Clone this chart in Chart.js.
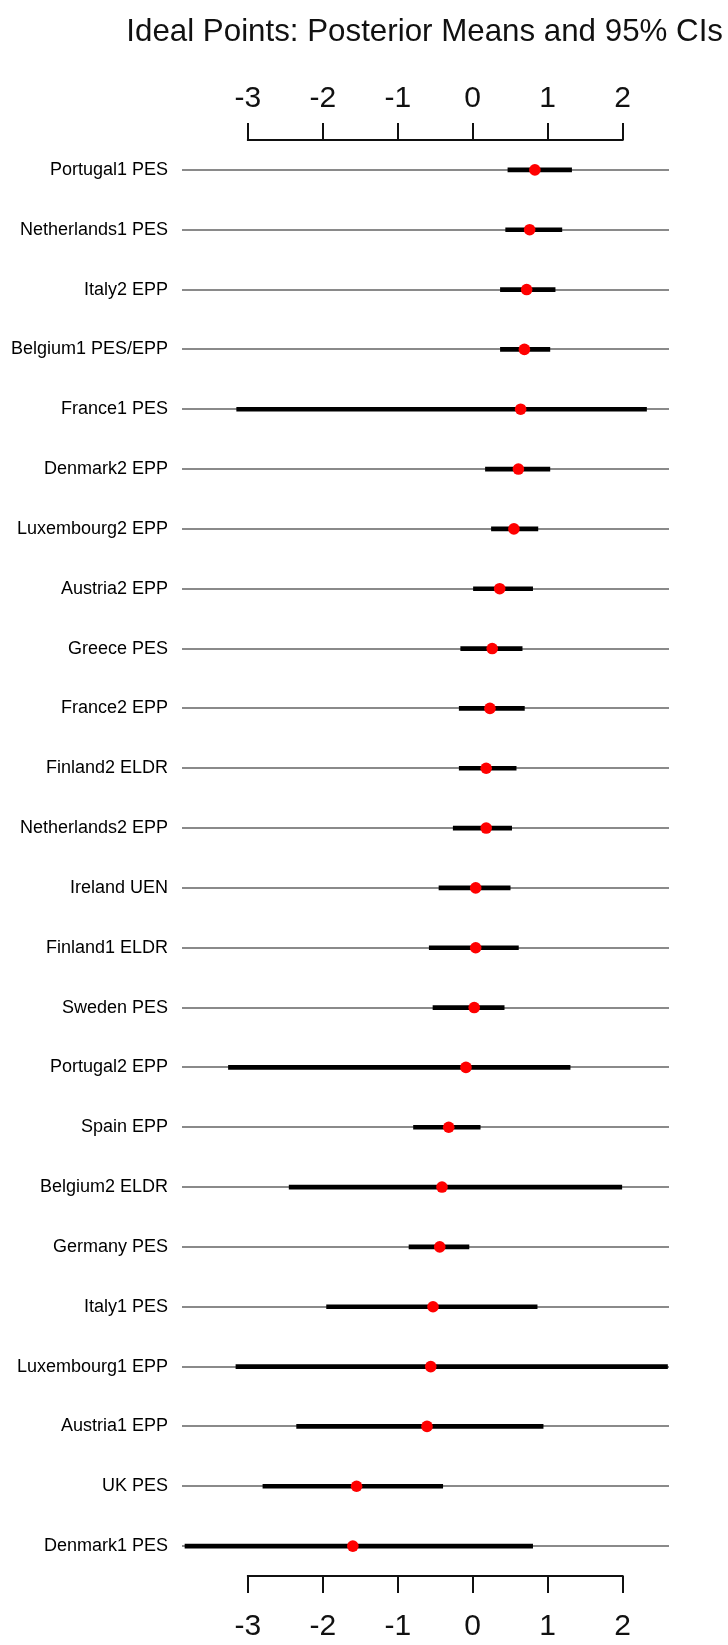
<!DOCTYPE html>
<html>
<head>
<meta charset="utf-8">
<script src="https://cdn.jsdelivr.net/npm/chart.js@4/dist/chart.umd.min.js"></script>
<style>
  html, body { margin: 0; padding: 0; background: #ffffff; }
  #wrap { width: 728px; height: 1645px; }
</style>
</head>
<body>
<div id="wrap"><canvas id="c" width="728" height="1645"></canvas></div>
<script>
// Party groups, top to bottom
const parties = [
  "Portugal1 PES", "Netherlands1 PES", "Italy2 EPP", "Belgium1 PES/EPP",
  "France1 PES", "Denmark2 EPP", "Luxembourg2 EPP", "Austria2 EPP",
  "Greece PES", "France2 EPP", "Finland2 ELDR", "Netherlands2 EPP",
  "Ireland UEN", "Finland1 ELDR", "Sweden PES", "Portugal2 EPP",
  "Spain EPP", "Belgium2 ELDR", "Germany PES", "Italy1 PES",
  "Luxembourg1 EPP", "Austria1 EPP", "UK PES", "Denmark1 PES"
];

// Posterior means of the ideal points
const posteriorMean = [
  0.83, 0.76, 0.72, 0.69, 0.64, 0.61, 0.55, 0.36,
  0.26, 0.23, 0.18, 0.18, 0.04, 0.04, 0.02, -0.09,
  -0.32, -0.41, -0.44, -0.53, -0.56, -0.61, -1.55, -1.60
];

// 95% credible interval bounds
const ciLower = [
  0.47, 0.44, 0.37, 0.37, -3.15, 0.17, 0.25, 0.01,
  -0.16, -0.18, -0.18, -0.26, -0.45, -0.58, -0.53, -3.26,
  -0.79, -2.45, -0.85, -1.95, -3.16, -2.35, -2.80, -3.84
];
const ciUpper = [
  1.32, 1.19, 1.10, 1.03, 2.32, 1.03, 0.87, 0.80,
  0.66, 0.69, 0.58, 0.52, 0.50, 0.61, 0.42, 1.30,
  0.10, 1.99, -0.05, 0.86, 2.60, 0.94, -0.40, 0.80
];

// Axis tick values (top and bottom)
const tickValues = [-3, -2, -1, 0, 1, 2];
const xRange = [-3.88, 2.62];

const titleText = "Ideal Points: Posterior Means and 95% CIs";
const fontFamily = "'Liberation Sans', Arial, sans-serif";

// Horizontal axis line drawn only between the first and last tick
const axisLinePlugin = {
  id: 'axisLine',
  afterDraw(chart) {
    const ctx = chart.ctx;
    const area = chart.chartArea;
    ctx.save();
    ctx.strokeStyle = '#111111';
    ctx.lineWidth = 2;
    [['x', area.bottom], ['x2', area.top]].forEach(([id, y]) => {
      const s = chart.scales[id];
      const a = s.getPixelForValue(tickValues[0]);
      const b = s.getPixelForValue(tickValues[tickValues.length - 1]);
      ctx.beginPath();
      ctx.moveTo(a - 1, y);
      ctx.lineTo(b + 1, y);
      ctx.stroke();
    });
    ctx.restore();
  }
};

const setTicks = (scale) => { scale.ticks = tickValues.map(v => ({ value: v })); };

const xAxisCommon = (position, height, pad) => ({
  type: 'linear',
  position: position,
  min: xRange[0],
  max: xRange[1],
  afterBuildTicks: setTicks,
  afterFit: (s) => { s.height = height; },
  border: { display: false },
  grid: {
    drawOnChartArea: false,
    drawTicks: true,
    tickLength: 17,
    color: '#111111',
    lineWidth: 2
  },
  ticks: {
    color: '#111111',
    padding: pad,
    maxRotation: 0,
    font: { family: fontFamily, size: 30 },
    callback: (v) => String(v)
  }
});

new Chart(document.getElementById('c'), {
  data: {
    labels: parties,
    datasets: [
      {
        type: 'line',
        label: 'Posterior mean',
        data: posteriorMean.map((m, i) => ({ x: m, y: parties[i] })),
        showLine: false,
        pointRadius: 5.8,
        pointHoverRadius: 5.8,
        pointBackgroundColor: '#ff0000',
        pointBorderColor: '#ff0000',
        pointBorderWidth: 0,
        xAxisID: 'x',
        yAxisID: 'y',
        order: 0
      },
      {
        type: 'bar',
        label: '95% CI',
        data: ciLower.map((lo, i) => [lo, ciUpper[i]]),
        backgroundColor: '#000000',
        borderWidth: 0,
        barThickness: 4,
        grouped: false,
        xAxisID: 'x',
        yAxisID: 'y',
        order: 1
      }
    ]
  },
  options: {
    indexAxis: 'y',
    responsive: false,
    devicePixelRatio: 1,
    animation: false,
    layout: { padding: { left: 0, right: 5, top: 0, bottom: 0 } },
    plugins: {
      legend: { display: false },
      tooltip: { enabled: false },
      title: {
        display: true,
        text: titleText,
        align: 'end',
        color: '#111111',
        font: { family: fontFamily, size: 31.3, weight: 'normal', lineHeight: 1.2 },
        padding: { top: 14, bottom: 18.4 }
      }
    },
    scales: {
      x: xAxisCommon('bottom', 69, 16),
      x2: xAxisCommon('top', 70, 6),
      y: {
        type: 'category',
        position: 'left',
        offset: true,
        afterFit: (s) => { s.width = 182; },
        border: { display: false },
        grid: {
          offset: false,
          drawTicks: false,
          color: '#8a8a8a',
          lineWidth: 2
        },
        ticks: {
          color: '#000000',
          padding: 14,
          font: { family: fontFamily, size: 18 }
        }
      },
      yr: {
        type: 'linear',
        position: 'right',
        display: true,
        afterFit: (s) => { s.width = 54; },
        border: { display: false },
        grid: { display: false },
        ticks: { display: false }
      }
    }
  },
  plugins: [axisLinePlugin]
});
</script>
</body>
</html>
